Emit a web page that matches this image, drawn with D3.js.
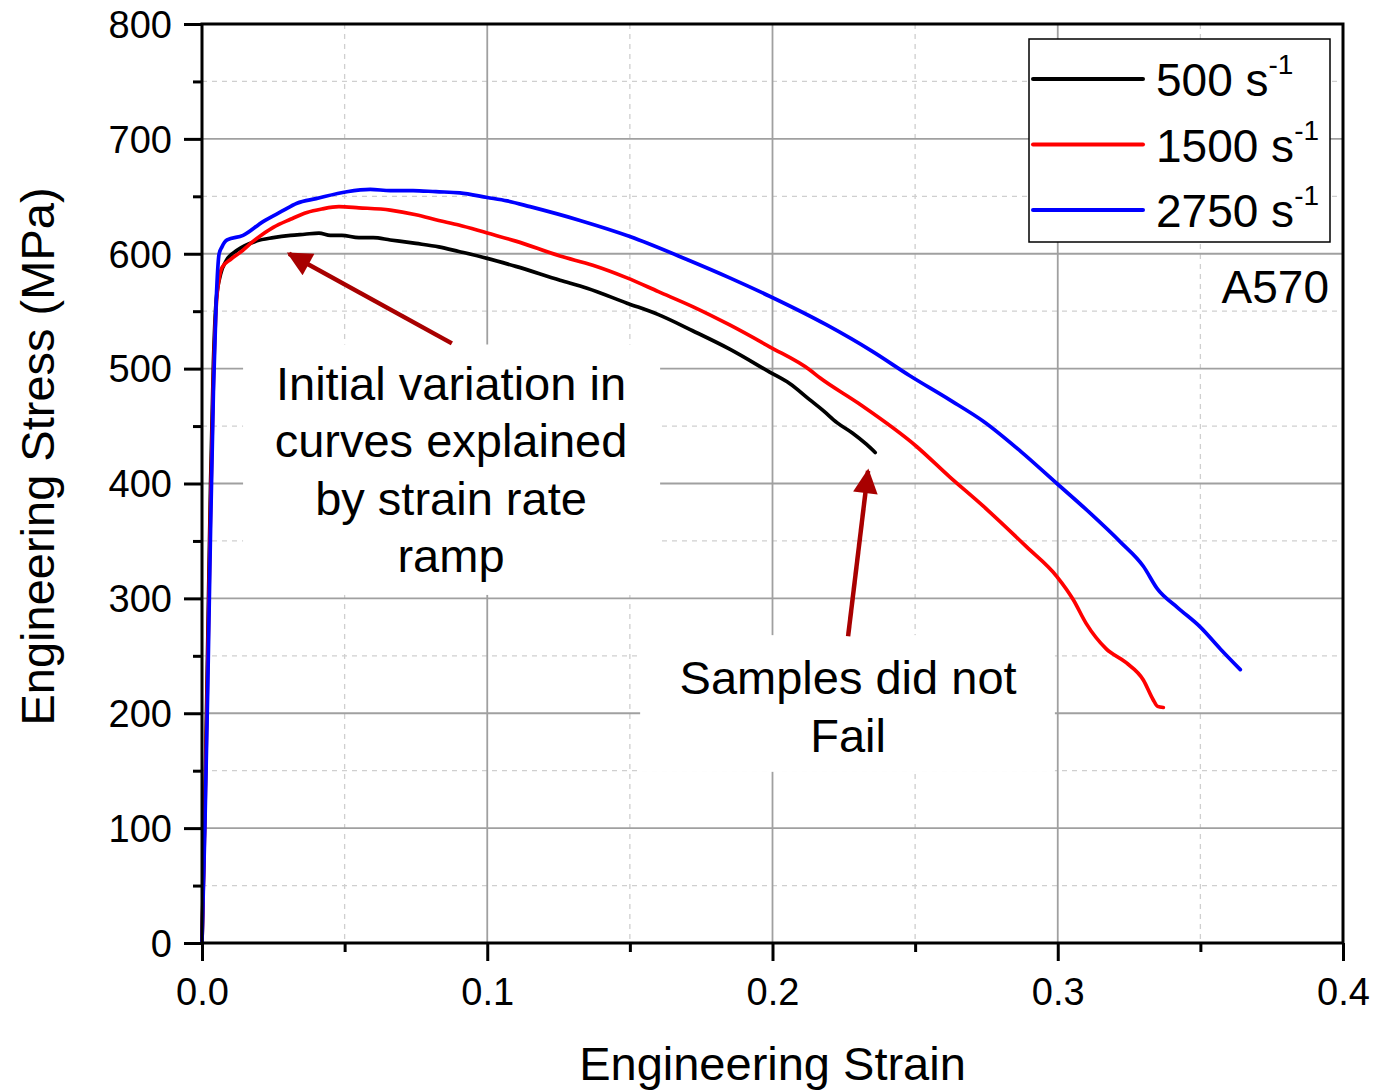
<!DOCTYPE html>
<html>
<head>
<meta charset="utf-8">
<script src="https://cdn.jsdelivr.net/npm/d3@7"></script>
<style>
  html, body { margin: 0; padding: 0; background: #fff; }
  svg { display: block; font-family: "Liberation Sans", Arial, sans-serif; }
</style>
</head>
<body>
<svg id="chart" width="1373" height="1090"></svg>
<script>
// ---------------- data ----------------
const xTicks = [0.0, 0.1, 0.2, 0.3, 0.4];
const xTickLabels = ["0.0", "0.1", "0.2", "0.3", "0.4"];
const xMinorTicks = [0.05, 0.15, 0.25, 0.35];
const yTicks = [0, 100, 200, 300, 400, 500, 600, 700, 800];
const yMinorTicks = [50, 150, 250, 350, 450, 550, 650, 750];

const seriesNames = ["500", "1500", "2750"];
const seriesColors = ["#000000", "#ff0000", "#0000ff"];

const curve500 = [[0,0],[0.001,120],[0.002,260],[0.003,400],[0.004,505],[0.005,560],[0.0065,582],[0.0085,594],[0.0123,603],[0.019,611],[0.025,614],[0.031,616],[0.036,617],[0.041,618],[0.045,616],[0.049,616],[0.055,614],[0.06,614],[0.066,612],[0.075,609],[0.083,606],[0.09,602],[0.1,596],[0.11,589],[0.1255,577],[0.135,570],[0.149,557],[0.16,547],[0.172,533],[0.185,517],[0.199,497],[0.206,487],[0.213,473],[0.218,463],[0.2226,453],[0.228,444],[0.233,434],[0.236,427]];

const curve1500 = [[0,0],[0.001,110],[0.002,240],[0.003,380],[0.004,490],[0.005,555],[0.006,578],[0.007,588],[0.01,595],[0.0133,601],[0.018,611],[0.025,623],[0.031,630],[0.0368,636],[0.042,639],[0.048,641],[0.055,640],[0.066,638],[0.075,634],[0.083,629],[0.09,625],[0.1,618],[0.11,611],[0.1255,598],[0.137,590],[0.149,579],[0.16,567],[0.172,554],[0.185,538],[0.199,519],[0.213,499],[0.2166,492],[0.23,470],[0.2506,432],[0.262,406],[0.274,380],[0.289,345],[0.2997,319],[0.3054,299],[0.31,278],[0.317,256],[0.324,244],[0.33,229],[0.3334,212],[0.335,206],[0.337,205]];

const curve2750 = [[0,0],[0.001,100],[0.002,220],[0.003,360],[0.004,480],[0.005,560],[0.006,600],[0.007,606],[0.0088,612],[0.0144,616],[0.0214,628],[0.028,637],[0.0333,644],[0.04,648],[0.0508,654],[0.059,656],[0.066,655],[0.074,655],[0.082,654],[0.0904,653],[0.1,649],[0.107,646],[0.115,641],[0.1325,629],[0.15,615],[0.17,595],[0.185,579],[0.199,563],[0.219,538],[0.235,515],[0.248,494],[0.262,473],[0.274,454],[0.287,428],[0.2997,400],[0.311,375],[0.322,349],[0.33,328],[0.335,308],[0.342,292],[0.35,275],[0.357,256],[0.364,238]];

const curves = [curve500, curve1500, curve2750];

// annotations (data coordinates)
const note1Lines = ["Initial variation in", "curves explained", "by strain rate", "ramp"];
const note1Box = [0.0144, 0.1606, 303, 521];
const note1Center = 0.0873;
const note1Arrow = [[0.0876, 522], [0.0305, 600]];
const note2Lines = ["Samples did not", "Fail"];
const note2Box = [0.1536, 0.299, 149, 268];
const note2Center = 0.2265;
const note2Arrow = [[0.2265, 267], [0.2335, 411]];
const materialLabel = "A570";

// ---------------- layout ----------------
const margin = {left: 202, top: 24, right: 30, bottom: 147};
const W = 1373, H = 1090;
const iw = W - margin.left - margin.right;  // 1141
const ih = H - margin.top - margin.bottom;  // 919

const svg = d3.select("#chart");
const g = svg.append("g").attr("transform", `translate(${margin.left},${margin.top})`);

const x = d3.scaleLinear().domain([0, 0.4]).range([0, iw]);
const y = d3.scaleLinear().domain([0, 800]).range([ih, 0]);

// minor grid (dashed)
g.append("g").selectAll("line.vm").data(xMinorTicks).join("line")
  .attr("x1", d => x(d)).attr("x2", d => x(d)).attr("y1", 0).attr("y2", ih)
  .attr("stroke", "#cfcfcf").attr("stroke-width", 1.3).attr("stroke-dasharray", "5,5");
g.append("g").selectAll("line.hm").data(yMinorTicks).join("line")
  .attr("y1", d => y(d)).attr("y2", d => y(d)).attr("x1", 0).attr("x2", iw)
  .attr("stroke", "#cfcfcf").attr("stroke-width", 1.3).attr("stroke-dasharray", "5,5");
// major grid (solid)
g.append("g").selectAll("line").data(xTicks.slice(1, -1)).join("line")
  .attr("x1", d => x(d)).attr("x2", d => x(d)).attr("y1", 0).attr("y2", ih)
  .attr("stroke", "#a0a0a0").attr("stroke-width", 1.8);
g.append("g").selectAll("line").data(yTicks.slice(1, -1)).join("line")
  .attr("y1", d => y(d)).attr("y2", d => y(d)).attr("x1", 0).attr("x2", iw)
  .attr("stroke", "#a0a0a0").attr("stroke-width", 1.8);

// annotation white boxes
function whiteBox(b) {
  g.append("rect")
    .attr("x", x(b[0])).attr("width", x(b[1]) - x(b[0]))
    .attr("y", y(b[3])).attr("height", y(b[2]) - y(b[3]))
    .attr("fill", "#fff");
}
whiteBox(note1Box);
whiteBox(note2Box);

// curves
const line = d3.line().x(d => x(d[0])).y(d => y(d[1])).curve(d3.curveMonotoneX);
curves.forEach((c, i) => {
  g.append("path").datum(c).attr("d", line)
    .attr("fill", "none").attr("stroke", seriesColors[i])
    .attr("stroke-width", 3.7).attr("stroke-linejoin", "round").attr("stroke-linecap", "round");
});

// axes
const fontTick = 38;
const xAxis = d3.axisBottom(x).tickValues(xTicks).tickFormat((d, i) => xTickLabels[i]).tickSize(18).tickPadding(12);
const gx = g.append("g").attr("transform", `translate(0,${ih})`).call(xAxis);
const yAxis = d3.axisLeft(y).tickValues(yTicks).tickFormat(d3.format("d")).tickSize(18).tickPadding(12);
const gy = g.append("g").call(yAxis);
[gx, gy].forEach(a => {
  a.select(".domain").remove();
  a.selectAll(".tick line").attr("stroke", "#000").attr("stroke-width", 3);
  a.selectAll(".tick text").attr("font-size", fontTick).attr("fill", "#000")
    .attr("font-family", "'Liberation Sans', Arial, sans-serif");
});
gy.selectAll(".tick text").attr("dy", "0.35em");
gx.selectAll(".tick text").attr("dy", "0.85em");
// minor ticks
const gxm = g.append("g").attr("transform", `translate(0,${ih})`)
  .call(d3.axisBottom(x).tickValues(xMinorTicks).tickSize(9).tickFormat(""));
const gym = g.append("g").call(d3.axisLeft(y).tickValues(yMinorTicks).tickSize(9).tickFormat(""));
[gxm, gym].forEach(a => {
  a.select(".domain").remove();
  a.selectAll(".tick line").attr("stroke", "#000").attr("stroke-width", 3);
});

// frame
g.append("rect").attr("x", 0).attr("y", 0).attr("width", iw).attr("height", ih)
  .attr("fill", "none").attr("stroke", "#000").attr("stroke-width", 3);

// axis titles
svg.append("text").attr("x", margin.left + x(0.2)).attr("y", 1080)
  .attr("text-anchor", "middle").attr("font-size", 47).attr("fill", "#000")
  .text("Engineering Strain");
svg.append("text").attr("transform", `translate(54,${margin.top + y(400) - 27}) rotate(-90)`)
  .attr("text-anchor", "middle").attr("font-size", 47).attr("fill", "#000")
  .text("Engineering Stress (MPa)");

// annotation texts
function noteText(lines, cx, topPx) {
  const t = g.append("text").attr("text-anchor", "middle").attr("font-size", 47).attr("fill", "#000");
  lines.forEach((s, i) => {
    t.append("tspan").attr("x", x(cx)).attr("y", topPx + i * 57.5).text(s);
  });
}
noteText(note1Lines, note1Center, y(note1Box[3]) + 55);
noteText(note2Lines, note2Center, y(note2Box[3]) + 59);

// arrows
const defs = svg.append("defs");
defs.append("marker").attr("id", "ah").attr("viewBox", "0 0 10 10")
  .attr("refX", 9).attr("refY", 5).attr("markerWidth", 6.5).attr("markerHeight", 5.5)
  .attr("markerUnits", "strokeWidth").attr("orient", "auto")
  .append("path").attr("d", "M0,0 L10,5 L0,10 z").attr("fill", "#a80000");
function arrow(a) {
  g.append("line")
    .attr("x1", x(a[0][0])).attr("y1", y(a[0][1]))
    .attr("x2", x(a[1][0])).attr("y2", y(a[1][1]))
    .attr("stroke", "#a80000").attr("stroke-width", 4.5)
    .attr("marker-end", "url(#ah)");
}
arrow(note1Arrow);
arrow(note2Arrow);

// legend
const lg = g.append("g").attr("transform", `translate(${iw - 314},${15})`);
lg.append("rect").attr("x", 0).attr("y", 0).attr("width", 301).attr("height", 203)
  .attr("fill", "#fff").attr("stroke", "#000").attr("stroke-width", 1.5);
seriesNames.forEach((n, i) => {
  const yy = 40 + i * 65.5;
  lg.append("line").attr("x1", 4).attr("x2", 114).attr("y1", yy).attr("y2", yy)
    .attr("stroke", seriesColors[i]).attr("stroke-width", 4).attr("stroke-linecap", "round");
  const t = lg.append("text").attr("x", 127).attr("y", yy + 17).attr("font-size", 46).attr("fill", "#000");
  t.append("tspan").text(n + " s");
  t.append("tspan").attr("font-size", 28).attr("dy", -22).text("-1");
});

// material label
g.append("text").attr("x", iw - 14).attr("y", y(560) + 3).attr("text-anchor", "end")
  .attr("font-size", 46).attr("fill", "#000").text(materialLabel);
</script>
</body>
</html>
